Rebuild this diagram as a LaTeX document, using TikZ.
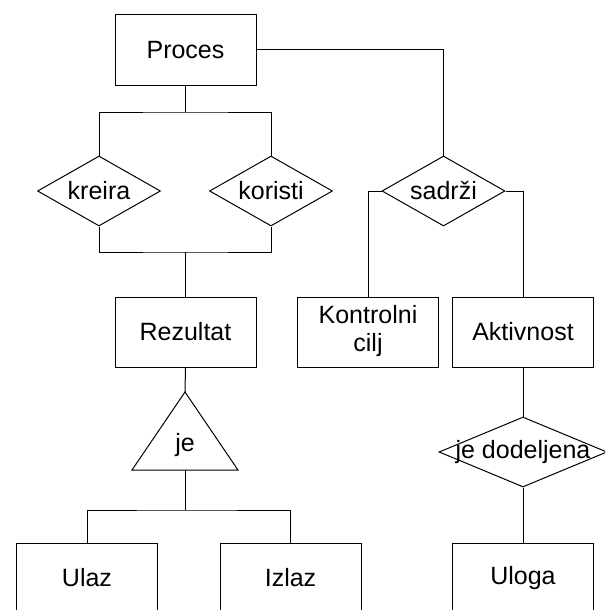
\documentclass[tikz,border=0pt]{standalone}
\usepackage{fontspec}
\setmainfont{Liberation Sans}
\usetikzlibrary{shapes.geometric}

\begin{document}
\begin{tikzpicture}[x=1pt,y=-1pt,
  every node/.style={font=\fontsize{25}{27.6}\selectfont},
  entity/.style={draw, line width=1pt, rectangle, minimum width=141pt, minimum height=70pt, inner sep=0pt},
  relation/.style={draw, line width=1pt, diamond, minimum width=123pt, minimum height=70pt, inner sep=0pt},
  link/.style={draw, line width=1pt}
]
\useasboundingbox (0,0) rectangle (605,610);
\clip (0,0) rectangle (605,610);

% entities
\node[entity] (proces)    at (185.5,50)  {Proces};
\node[entity] (rezultat)  at (185.5,332) {Rezultat};
\node[entity] (kontrolni) at (368,332) {\begin{tabular}{@{}c@{}}Kontrolni\\cilj\end{tabular}};
\node[entity] (aktivnost) at (523,332)   {Aktivnost};
\node[entity] (ulaz)      at (87,578)    {Ulaz};
\node[entity] (izlaz)     at (290.5,578) {Izlaz};
\node[entity] (uloga)     at (523,578)   {Uloga};

% relationships
\node[relation] (kreira)  at (99,191)    {\makebox[0pt]{kreira}};
\node[relation] (koristi) at (271,191)   {\makebox[0pt]{koristi}};
\node[relation] (sadrzi)  at (443.5,191) {\makebox[0pt]{sadrži}};
\node[relation, minimum width=168pt] (dodeljena) at (523,452) {\makebox[0pt]{je dodeljena}};

% specialization triangle
\coordinate (jeTop)  at (185,392);
\coordinate (jeLeft) at (132,470);
\coordinate (jeRight) at (238,470);
\coordinate (jeBase) at (185,470);
\draw[line width=1pt, line join=miter] (jeTop) -- (jeLeft) -- (jeRight) -- cycle;
\node (je) at (185,445) {je};

% junction points
\coordinate (j1) at (185.5,112);
\coordinate (j2) at (185.5,252);
\coordinate (j3) at (185,510);

% connectors
\path[link] (proces.south) -- (j1);
\path[link] (kreira.north) |- (j1) -| (koristi.north);
\path[link] (kreira.south) |- (j2) -| (koristi.south);
\path[link] (j2) -- (rezultat.north);
\path[link] (proces.east) -| (sadrzi.north);
\path[link] (sadrzi.west) -| (kontrolni.north);
\path[link] (sadrzi.east) -| (aktivnost.north);
\path[link] (rezultat.south) -- (jeTop);
\path[link] (jeBase) -- (j3);
\path[link] (ulaz.north) |- (j3) -| (izlaz.north);
\path[link] (aktivnost.south) -- (dodeljena.north);
\path[link] (dodeljena.south) -- (uloga.north);
\end{tikzpicture}
\end{document}
